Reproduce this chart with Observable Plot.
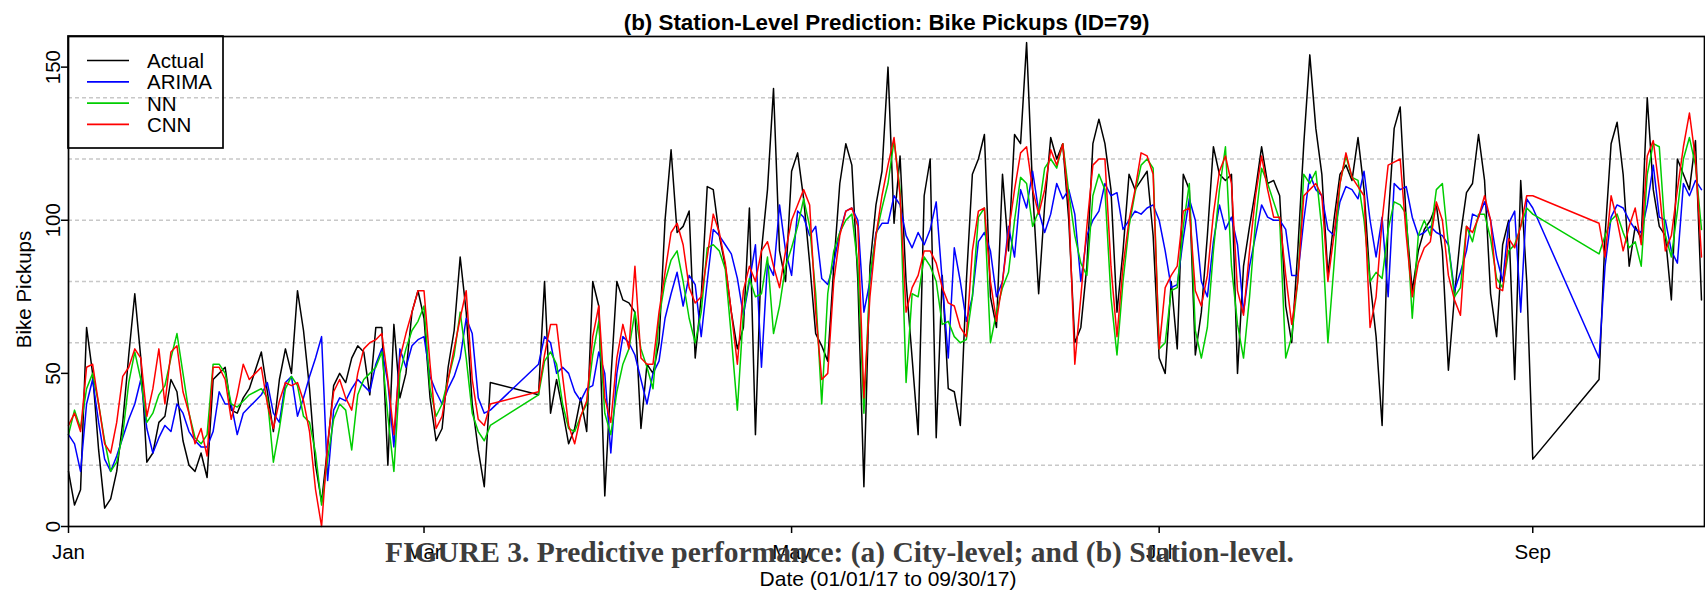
<!DOCTYPE html>
<html><head><meta charset="utf-8">
<script src="https://cdn.jsdelivr.net/npm/d3@7"></script>
<script src="https://cdn.jsdelivr.net/npm/@observablehq/plot@0.6"></script>
<style>
html,body{margin:0;padding:0;background:#fff;}
#chart{width:1705px;height:595px;}
</style></head><body><div id="chart"></div>
<script>
// Daily observation dates (runs of consecutive days; the gaps are missing days)
const dateRuns = [["2017-01-01","2017-03-12"],["2017-03-20","2017-09-01"],["2017-09-12","2017-09-29"]];

const actual = [
18,7,12,65,50,25,6,9,18,34, 56,76,55,21,24,34,36,48,44,28, 20,18,24,16,48,50,52,38,37,42,
45,51,57,44,31,48,58,50,77,64, 45,20,8,26,46,50,47,55,59,57, 43,65,65,20,66,42,50,70,77,68,
42,28,32,52,64,88,70,40,25,13, 47,
43,80,37,48,38,27,32,42,31,80, 72,10,48,80,74,73,70,32,53,50, 60,100,123,96,98,103,55,75,111,110,
95,85,70,58,65,104,30,90,110,143, 90,80,116,122,107,86,63,59,54,85, 112,125,118,80,13,85,105,116,150,99,
121,80,55,30,108,120,29,82,45,44, 33,80,115,120,128,75,65,115,90,128, 125,158,110,76,105,127,120,125,100,60,
65,85,125,133,125,110,70,90,115,110, 113,116,95,55,50,80,58,115,110,56, 70,95,124,115,113,115,50,85,98,110,
124,112,113,108,72,60,90,125,154,130, 115,82,100,115,118,113,127,110,80,62, 33,100,130,137,100,77,90,97,100,105,
90,51,75,95,109,112,128,113,76,62, 92,100,48,113,80,22,
48,95,125,132,115,85,98,94,140,110, 98,95,74,120,115,110,126,74
];
const arima = [
30,27,18,40,48,34,22,18,23,29, 35,40,48,32,24,29,33,31,40,37, 31,28,26,26,31,44,40,40,30,37,
39,41,43,47,37,34,47,49,36,42, 49,55,62,15,38,42,41,45,48,46, 44,53,58,47,26,58,52,59,61,62,
49,44,40,45,49,55,68,63,42,37, 38,
53,62,60,50,52,50,44,41,45,46, 57,50,24,50,62,60,56,48,40,50, 54,68,76,83,72,82,79,62,80,97,
95,92,89,81,69,80,92,52,86,82, 105,90,82,103,101,95,98,81,79,86, 96,103,104,100,70,80,96,99,99,108,
105,95,91,96,92,97,106,80,55,91, 80,67,75,93,96,90,75,80,98,88, 110,104,116,103,96,102,112,107,110,102,
80,95,100,103,112,108,109,97,100,103, 102,104,105,100,90,78,79,94,107,100, 80,75,93,105,97,101,92,70,85,95,
105,101,100,100,97,82,82,100,115,110, 108,97,95,106,111,110,107,116,100,88, 101,75,112,110,111,101,95,96,98,96,
95,92,77,83,90,102,101,106,100,88, 80,99,103,70,107,104,
55,85,101,105,104,100,97,96,105,118, 101,100,90,86,112,108,113,110
];
const nn = [
30,38,32,45,50,40,28,18,21,30, 47,57,48,34,37,43,46,55,63,50, 37,29,27,30,53,53,50,40,39,41,
43,44,45,42,21,32,45,49,46,36, 34,24,7,22,35,40,38,25,43,48, 50,52,57,36,18,50,58,64,67,72,
45,36,40,48,56,70,55,37,31,28, 33,
43,54,57,53,40,32,31,36,40,56, 67,37,30,44,53,58,70,58,52,45, 68,80,87,90,80,68,60,70,91,92,
90,84,62,38,70,81,75,76,88,63, 72,85,91,98,107,98,76,40,76,90, 96,100,102,85,37,82,95,104,112,126,
110,47,76,75,88,85,80,66,67,62, 60,61,75,101,104,60,70,78,83,100, 114,112,98,103,117,120,117,125,109,95,
86,82,108,115,110,75,56,80,98,109, 118,120,117,58,60,77,78,98,112,64, 55,65,90,110,124,85,66,55,75,100,
117,112,106,100,55,62,80,115,112,116, 97,60,85,112,121,114,113,100,80,83, 81,97,106,105,102,68,95,100,95,110,
112,92,75,78,98,93,102,102,94,81, 78,90,92,98,104,102,
89,95,100,102,96,91,93,85,115,125, 124,95,88,103,120,127,118,97
];
const cnn = [
33,37,31,52,53,40,27,24,34,49, 52,58,55,36,45,58,40,57,59,44, 37,27,32,23,52,52,48,35,43,53,
48,50,52,40,32,41,47,46,47,41, 31,12,0,27,44,48,42,38,50,58, 60,61,63,48,30,55,63,70,77,77,
53,32,36,48,58,68,77,48,35,33, 40,
44,56,66,66,49,33,27,36,41,62, 72,42,34,55,66,58,85,55,53,53, 70,83,96,99,92,78,73,75,88,102,
96,86,70,53,77,85,80,90,93,85, 78,90,100,105,110,105,70,48,50,80, 95,103,104,98,42,75,95,108,118,127,
108,70,78,82,90,90,86,78,73,72, 65,62,90,103,104,80,67,80,96,110, 122,124,110,102,110,123,118,125,105,53,
75,98,118,120,120,85,62,85,100,110, 122,121,115,58,78,82,85,103,104,77, 72,82,102,116,121,112,77,69,90,108,
121,110,101,101,82,66,80,108,110,112, 108,80,95,112,122,114,111,108,65,75, 100,118,119,120,95,75,86,91,93,106,
100,82,74,69,98,96,101,108,100,78, 77,94,91,98,108,108,
99,88,108,100,90,98,104,92,121,126, 110,90,95,110,124,135,120,88
];

const seriesNames = ["Actual","ARIMA","NN","CNN"];
const seriesColors = ["#000000","#0000ff","#00cd00","#ff0000"];
const yTicks = [0,50,100,150];
const yGrid = [20,40,60,80,100,120,140];
const xTickDates = ["2017-01-01","2017-03-01","2017-05-01","2017-07-01","2017-09-01"];
const xTickLabels = ["Jan","Mar","May","Jul","Sep"];
const titleText = "(b) Station-Level Prediction: Bike Pickups (ID=79)";
const xLabel = "Date (01/01/17 to 09/30/17)";
const yLabel = "Bike Pickups";
const captionText = "FIGURE 3. Predictive performance: (a) City-level; and (b) Station-level.";

const parse = s => new Date(s + "T00:00:00Z");
const dates = dateRuns.flatMap(([a, b]) => d3.utcDay.range(parse(a), d3.utcDay.offset(parse(b), 1)));
const valueArrays = [actual, arima, nn, cnn];
const tables = valueArrays.map((vals, k) => dates.map((date, i) => ({date, value: vals[i], series: seriesNames[k]})));
const xTicks = xTickDates.map(parse);
const xStart = parse("2017-01-01");
const xEnd = new Date(parse("2017-09-29").getTime() + 12 * 3600 * 1000);

const FONT = "'Liberation Sans', Arial, sans-serif";

const plot = Plot.plot({
  width: 1705,
  height: 595,
  marginLeft: 68,
  marginRight: 1,
  marginTop: 36,
  marginBottom: 69,
  style: {fontFamily: FONT, fontSize: "20.5px", color: "#000", background: "#fff", overflow: "visible"},
  x: {type: "utc", domain: [xStart, xEnd], axis: null, label: null},
  y: {domain: [0, 160], axis: null, label: null},
  marks: [
    Plot.ruleY(yGrid, {stroke: "#c8c8c8", strokeWidth: 1.4, strokeDasharray: "4,3"}),
    ...tables.map((t, k) => Plot.line(t, {x: "date", y: "value", stroke: seriesColors[k], strokeWidth: 1.5})),
    Plot.frame({stroke: "#000", strokeWidth: 1.7}),
    // y ticks + rotated labels
    Plot.axisY(yTicks, {tickSize: 7, text: null, label: null, stroke: "#000", strokeWidth: 1.5}),
    Plot.text(yTicks, {y: d => d, frameAnchor: "left", dx: -9, rotate: -90, textAnchor: "middle", lineAnchor: "bottom", fontSize: 20.5, fill: "#000"}),
    // x ticks + labels
    Plot.axisX(xTicks, {tickSize: 7, text: null, label: null, stroke: "#000", strokeWidth: 1.5}),
    Plot.text(xTicks, {x: d => d, text: (d, i) => xTickLabels[i], frameAnchor: "bottom", dy: 32.5, lineAnchor: "bottom", textAnchor: "middle", fontSize: 20.5, fill: "#000"}),
    // titles and labels
    Plot.text([titleText], {frameAnchor: "top", dy: -7, lineAnchor: "bottom", fontSize: 22.4, fontWeight: "bold", fill: "#000"}),
    Plot.text([xLabel], {frameAnchor: "bottom", dx: 1.5, dy: 59, lineAnchor: "bottom", fontSize: 21, fill: "#000"}),
    Plot.text([yLabel], {frameAnchor: "left", dx: -38, dy: 8, rotate: -90, textAnchor: "middle", lineAnchor: "bottom", fontSize: 20.5, fill: "#000"}),
    Plot.text([captionText], {frameAnchor: "bottom", dx: -47, dy: 35.5, lineAnchor: "bottom", fontSize: 29.5, fontWeight: "bold", fontFamily: "'Liberation Serif', 'Times New Roman', serif", fill: "#3d3d3d"})
  ]
});

// R-style legend box in the top-left corner of the plotting region
const svg = d3.select(plot);
const lg = svg.append("g").attr("font-family", FONT).attr("font-size", 20.5).attr("text-anchor", "start");
lg.append("rect").attr("x", 68).attr("y", 36).attr("width", 155).attr("height", 112)
  .attr("fill", "none").attr("stroke", "#000").attr("stroke-width", 1.7);
seriesNames.forEach((name, i) => {
  const yy = 60.5 + i * 21.3;
  lg.append("line").attr("x1", 87).attr("x2", 129).attr("y1", yy).attr("y2", yy)
    .attr("stroke", seriesColors[i]).attr("stroke-width", 1.7);
  lg.append("text").attr("x", 147).attr("y", yy + 7.5).attr("text-anchor", "start").attr("fill", "#000").text(name);
});

document.getElementById("chart").appendChild(plot);
</script>
</body></html>
